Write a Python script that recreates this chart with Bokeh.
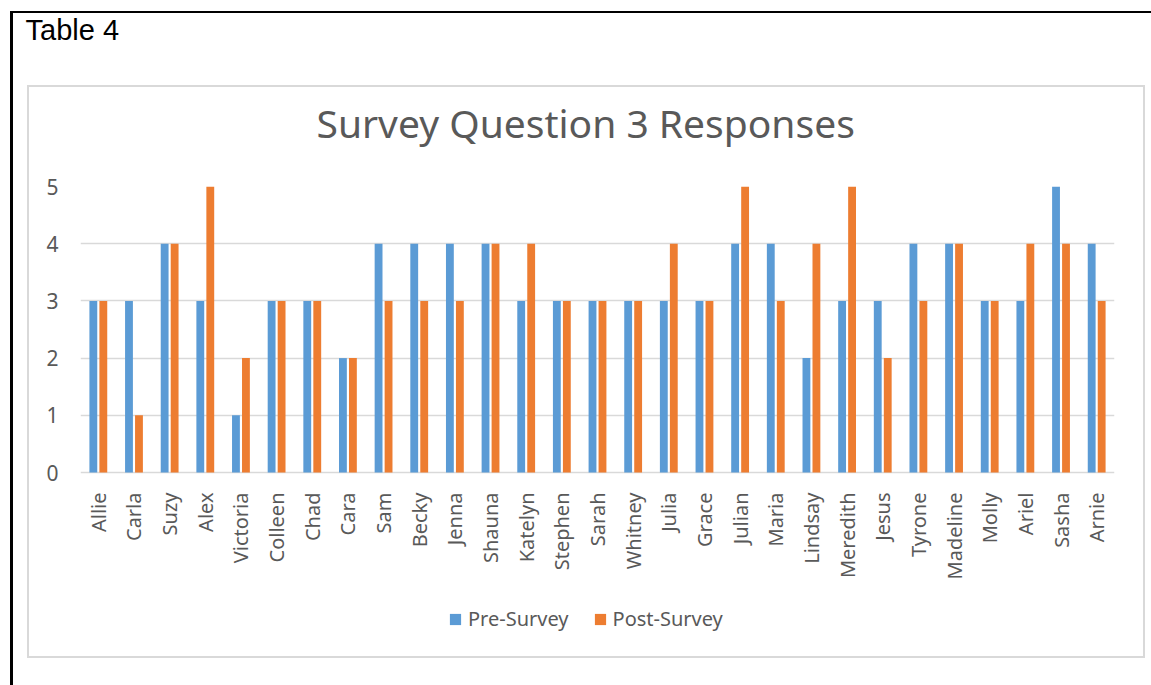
from bokeh.plotting import figure
from bokeh.models import (ColumnDataSource, FactorRange, Range1d, FixedTicker, Legend, LegendItem, Title)
from bokeh.transform import dodge
from bokeh.embed import file_html
from bokeh.resources import INLINE
import math

names = ["Allie", "Carla", "Suzy", "Alex", "Victoria", "Colleen", "Chad", "Cara", "Sam", "Becky",
         "Jenna", "Shauna", "Katelyn", "Stephen", "Sarah", "Whitney", "Julia", "Grace", "Julian",
         "Maria", "Lindsay", "Meredith", "Jesus", "Tyrone", "Madeline", "Molly", "Ariel", "Sasha", "Arnie"]
pre_survey = [3, 3, 4, 3, 1, 3, 3, 2, 4, 4, 4, 4, 3, 3, 3, 3, 3, 3, 4, 4, 2, 3, 3, 4, 4, 3, 3, 5, 4]
post_survey = [3, 1, 4, 5, 2, 3, 3, 2, 3, 3, 3, 4, 4, 3, 3, 3, 4, 3, 5, 3, 4, 5, 2, 3, 4, 3, 4, 4, 3]
y_ticks = [0, 1, 2, 3, 4, 5]
series_names = ["Pre-Survey", "Post-Survey"]
chart_title = "Survey Question 3 Responses"
caption = "Table 4"

BLUE = "#5B9BD5"
ORANGE = "#ED7D31"
TXT = "#595959"
GRID = "#D9D9D9"
FONT = "Noto Sans"

# layout sizes in pixels
PLOT_H = 286          # height of the 0..5 value area
LOWER_ZONE = 168      # room below zero for category labels and legend (inside the frame)
px_per_unit = PLOT_H / max(y_ticks)

src = ColumnDataSource(dict(name=names, pre=pre_survey, post=post_survey))

p = figure(frame_width=1034, frame_height=PLOT_H + LOWER_ZONE,
           x_range=FactorRange(factors=names, range_padding=0),
           y_range=Range1d(-LOWER_ZONE / px_per_unit, max(y_ticks)),
           output_backend="svg", toolbar_location=None,
           min_border_left=80, min_border_right=37, min_border_top=186, min_border_bottom=45)
p.outline_line_color = None
p.background_fill_color = None
p.border_fill_color = None

# page decorations (black page rule and light grey chart border) painted behind the canvas
layers = [
    ("black", "10px 11px", "1200px 2px"),
    ("black", "10px 11px", "3px 700px"),
    (GRID, "27px 85px", "1118px 2px"),
    (GRID, "27px 656px", "1118px 2px"),
    (GRID, "27px 85px", "2px 573px"),
    (GRID, "1143px 85px", "2px 573px"),
]
p.styles = {
    "background-color": "white",
    "background-image": ", ".join(f"linear-gradient({c}, {c})" for c, _, _ in layers),
    "background-position": ", ".join(pos for _, pos, _ in layers),
    "background-size": ", ".join(sz for _, _, sz in layers),
    "background-repeat": "no-repeat",
}

r_pre = p.vbar(x=dodge("name", -0.14, range=p.x_range), top="pre", bottom=0, width=0.22, source=src,
               fill_color=BLUE, line_color=None)
r_post = p.vbar(x=dodge("name", 0.14, range=p.x_range), top="post", bottom=0, width=0.22, source=src,
                fill_color=ORANGE, line_color=None)

p.xgrid.grid_line_color = None
p.ygrid.ticker = FixedTicker(ticks=y_ticks)
p.ygrid.grid_line_color = GRID
p.ygrid.grid_line_width = 1.5
p.ygrid.level = "underlay"

p.yaxis.ticker = FixedTicker(ticks=y_ticks)
p.yaxis.axis_line_color = None
p.yaxis.major_tick_line_color = None
p.yaxis.minor_tick_line_color = None
p.yaxis.major_label_standoff = 16
p.yaxis.major_label_text_font = FONT
p.yaxis.major_label_text_font_size = "21px"
p.yaxis.major_label_text_color = TXT

# category labels hang just under the zero line (the frame extends lower to hold the legend)
p.xaxis.axis_line_color = None
p.xaxis.major_tick_line_color = None
p.xaxis.minor_tick_line_color = None
p.xaxis.major_label_orientation = math.pi / 2
p.xaxis.major_label_standoff = 14 - LOWER_ZONE
p.xaxis.major_label_text_font = FONT
p.xaxis.major_label_text_font_size = "20px"
p.xaxis.major_label_text_color = TXT

p.title.text = caption
p.title.align = "left"
p.title.offset = -55
p.title.standoff = 19
p.title.text_font = "Liberation Sans"
p.title.text_font_size = "29px"
p.title.text_font_style = "normal"
p.title.text_color = "black"

p.add_layout(Title(text=chart_title, align="left", offset=236, standoff=76,
                   text_font=FONT, text_font_size="39px",
                   text_font_style="normal", text_color=TXT), "above")

legend = Legend(items=[LegendItem(label=series_names[0], renderers=[r_pre]),
                       LegendItem(label=series_names[1], renderers=[r_post])],
                orientation="horizontal", location=(368, 8),
                glyph_width=14, glyph_height=14, label_standoff=6, spacing=24,
                padding=0, margin=0, border_line_color=None, background_fill_alpha=0,
                label_text_font=FONT, label_text_font_size="20px", label_text_color=TXT,
                label_height=20)
p.add_layout(legend, "center")

open("out.html", "w").write(file_html(p, INLINE))
